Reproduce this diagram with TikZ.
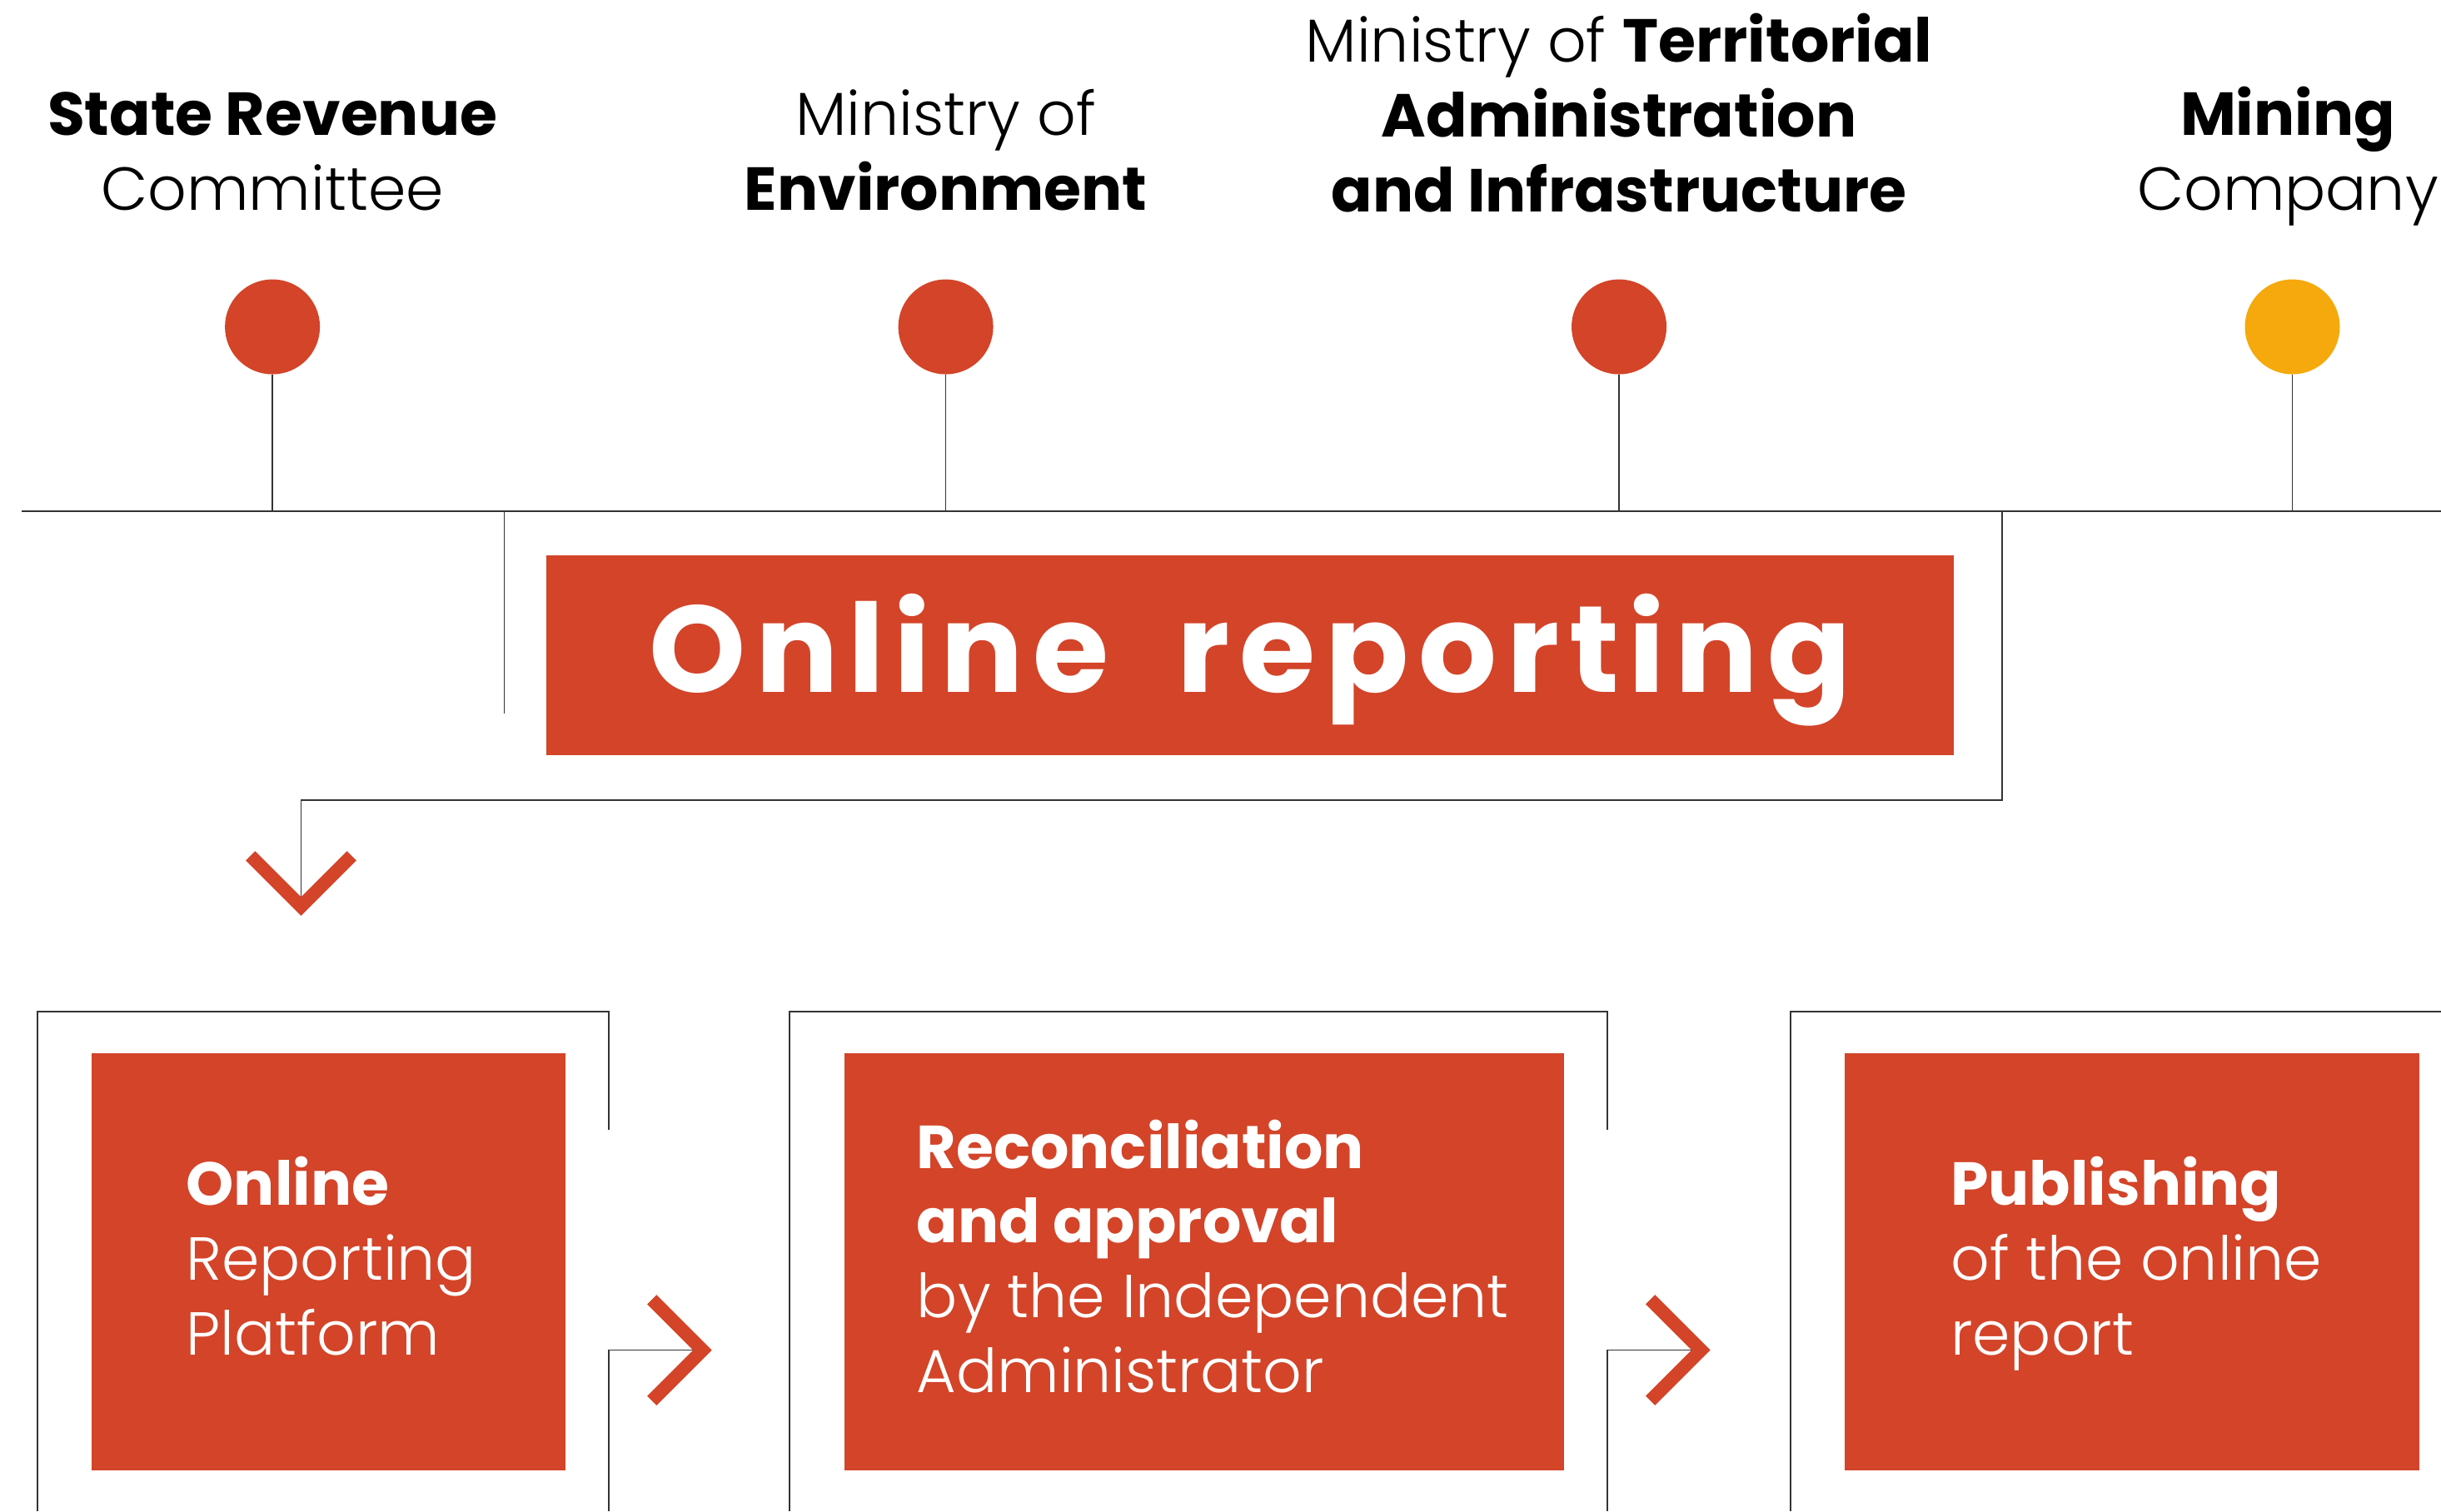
\documentclass[tikz,border=0pt]{standalone}
\usepackage{fontspec}
\setmainfont{Poppins Light}[BoldFont={Poppins Bold}]
\newfontfamily\titlefont{Poppins Bold}[LetterSpace=8,WordSpace=1.9]
\usepackage{tikz}
\usetikzlibrary{positioning}
\definecolor{eitired}{RGB}{211,68,41}
\definecolor{eitiyellow}{RGB}{245,169,12}
\newdimen\pinDist
\pinDist=432.5pt

\begin{document}
\begin{tikzpicture}[
    x=1pt, y=-1pt,
    agency/.style={%
      align=center,
      anchor=base,
      inner sep=0pt,
      font=\fontsize{39}{48}\selectfont,
    },
    pin/.style={%
      circle,
      fill=eitired,
      minimum size=61pt,
      inner sep=0pt,
    },
    wire/.style={%
      draw=black!80,
      line width=0.9pt,
    },
    chevron/.style={%
      draw=eitired,
      line width=8.5pt,
      miter limit=10,
    },
    titlebox/.style={%
      fill=eitired,
      text=white,
      minimum width=904pt,
      minimum height=128pt,
      text height=48pt,
      text depth=0pt,
      inner sep=0pt,
      font=\titlefont\fontsize{79}{79}\selectfont,
    },
    stepbox/.style={%
      fill=eitired,
      anchor=north west,
      minimum height=267.7pt,
      inner sep=0pt,
    },
    steptext/.style={%
      text=white,
      align=left,
      anchor=base west,
      inner sep=0pt,
      font=\fontsize{39}{48}\selectfont,
    },
  ]
    \useasboundingbox (0,0) rectangle (1568,971);

    % who reports
    \node [pin] (A) at (175,210) {};
    \path (A) ++(\pinDist,0) node [pin] (B) {};
    \path (B) ++(\pinDist,0) node [pin] (C) {};
    \path (C) ++(\pinDist,0) node [pin, fill=eitiyellow] (D) {};

    \path (A) ++(0,-75) node [agency] (SRC) {\textbf{State Revenue}\\Committee};
    \path (B) ++(0,-75) node [agency] (MOE) {Ministry of\\\textbf{Environment}};
    \path (C) ++(0,-74) node [agency] (MTA) {Ministry of \textbf{Territorial}\\\textbf{Administration}\\\textbf{and Infrastructure}};
    \path (D) ++(-3,-75) node [agency] (MC) {\textbf{Mining}\\Company};

    \coordinate (L0) at (14,328.5);
    \coordinate (L1) at (1568,328.5);
    \draw [wire] (L0) -- (L1);
    \draw [wire] (A) -- (A |- L0);
    \draw [wire] (B) -- (B |- L0);
    \draw [wire] (C) -- (C |- L0);
    \draw [wire] (D) -- (D |- L0);

    % online reporting
    \node [titlebox] (OR) at (803,421) {Online reporting};
    \coordinate (OL) at (324,458.5);
    \coordinate (OE) at (1286,514);
    \coordinate (V0) at (193.4,582.4);
    \draw [wire] (OL |- L0) -- (OL);
    \draw [wire] (OE |- L0) -- (OE) -- (OE -| V0) -- (V0);
    \draw [chevron] (V0) ++(-32.5,-32.5) -- (V0) -- ++(32.5,-32.5);

    % steps
    \node [stepbox, minimum width=304.6pt] (P1) at (58.7,676.7) {};
    \node [stepbox, minimum width=462.1pt] (P2) at (542.5,676.7) {};
    \node [stepbox, minimum width=368.9pt] (P3) at (1185,676.7) {};

    \node [steptext] (T1) at (119.4,870.5) {\textbf{Online}\\Reporting\\Platform};
    \node [steptext] (T2) at (588.7,894.7) {\textbf{Reconciliation}\\\textbf{and approval}\\by the Independent\\Administrator};
    \node [steptext] (T3) at (1252.8,870.5) {\textbf{Publishing}\\of the online\\report};

    \coordinate (V1) at (451.2,867.5);
    \coordinate (V2) at (1092.6,867.5);
    \draw [wire] (23.9,971) -- (23.9,650) -- (391,650) -- (391,726);
    \draw [wire] (391,971) -- (391,867.5) -- (V1);
    \draw [wire] (507.3,971) -- (507.3,650) -- (1032.5,650) -- (1032.5,726);
    \draw [wire] (1032.5,971) -- (1032.5,867.5) -- (V2);
    \draw [wire] (1150.1,971) -- (1150.1,650) -- (1568,650);
    \draw [chevron] (V1) ++(-32.5,-32.5) -- (V1) -- ++(-32.5,32.5);
    \draw [chevron] (V2) ++(-32.5,-32.5) -- (V2) -- ++(-32.5,32.5);
\end{tikzpicture}
\end{document}
